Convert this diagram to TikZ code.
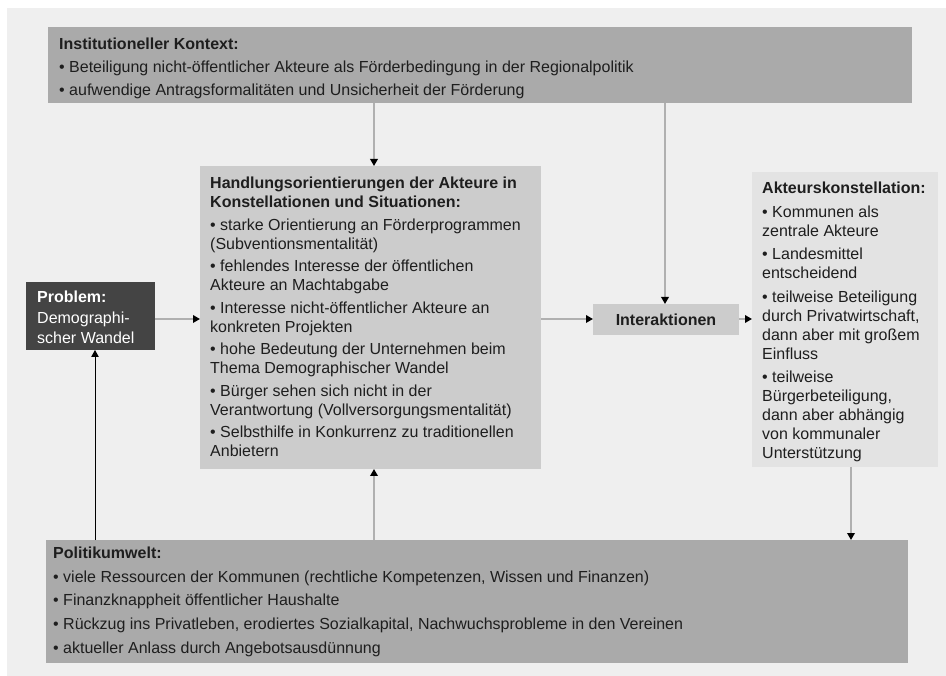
\documentclass[tikz,border=0pt]{standalone}
\usepackage{fontspec}
\setmainfont{Liberation Sans}
\usetikzlibrary{arrows.meta}
\definecolor{bgcol}{HTML}{EFEFEF}
\definecolor{darkbox}{HTML}{AAAAAA}
\definecolor{midbox}{HTML}{CCCCCC}
\definecolor{lightbox}{HTML}{E3E3E3}
\definecolor{probbox}{HTML}{444444}
\definecolor{linegray}{HTML}{B0B0B0}
\definecolor{txtcol}{HTML}{1E1E1E}
\begin{document}
\begin{tikzpicture}[x=1pt,y=-1pt,
  box/.style={draw=none,inner sep=0pt,outer sep=0pt,anchor=north west},
  txt/.style={inner sep=0pt,anchor=north west,align=left,text=txtcol,
    font=\fontsize{16}{19}\selectfont},
  conn/.style={draw=linegray,line width=1.8pt,
    -{Triangle[length=7pt,width=7.5pt,color=black]}},
  connb/.style={draw=black,line width=1pt,
    -{Triangle[length=7pt,width=7.5pt,color=black]}}]
\useasboundingbox (0,0) rectangle (946,676);
\fill[white] (0,0) rectangle (946,676);
\fill[bgcol] (7,8) rectangle (946,676);

% boxes
\node[box,fill=darkbox,minimum width=864pt,minimum height=76pt] (IK) at (48,27) {};
\node[box,fill=midbox,minimum width=341pt,minimum height=303pt] (H) at (200,166) {};
\node[box,fill=probbox,minimum width=129pt,minimum height=68pt] (P) at (26,282) {};
\node[box,fill=midbox,minimum width=146pt,minimum height=31pt] (I) at (593,304) {};
\node[box,fill=lightbox,minimum width=186pt,minimum height=295pt] (A) at (752,172) {};
\node[box,fill=darkbox,minimum width=862pt,minimum height=123pt] (PU) at (46,540) {};

% texts
\node[txt,font=\fontsize{16}{23}\selectfont] (IKt) at (59,38)
  {\textbf{Institutioneller Kontext:}\\
   • Beteiligung nicht-öffentlicher Akteure als Förderbedingung in der Regionalpolitik\\
   • aufwendige Antragsformalitäten und Unsicherheit der Förderung};

\node[txt] (Ht) at (210,177)
  {\textbf{Handlungsorientierungen der Akteure in}\\
   \textbf{Konstellationen und Situationen:}\\[3.5pt]
   • starke Orientierung an Förderprogrammen\\
   (Subventionsmentalität)\\[3.5pt]
   • fehlendes Interesse der öffentlichen\\
   Akteure an Machtabgabe\\[3.5pt]
   • Interesse nicht-öffentlicher Akteure an\\
   konkreten Projekten\\[3.5pt]
   • hohe Bedeutung der Unternehmen beim\\
   Thema Demographischer Wandel\\[3.5pt]
   • Bürger sehen sich nicht in der\\
   Verantwortung (Vollversorgungsmentalität)\\[3.5pt]
   • Selbsthilfe in Konkurrenz zu traditionellen\\
   Anbietern};

\node[txt,text=white,font=\fontsize{16}{20.5}\selectfont] (Pt) at (37,291)
  {\textbf{Problem:}\\
   Demographi-\\
   scher Wandel};

\node[inner sep=0pt,text=txtcol,font=\fontsize{16}{19}\selectfont\bfseries] (It) at (I.center) {Interaktionen};

\node[txt] (At) at (762,182)
  {\textbf{Akteurskonstellation:}\\[4.5pt]
   • Kommunen als\\
   zentrale Akteure\\[4.5pt]
   • Landesmittel\\
   entscheidend\\[4.5pt]
   • teilweise Beteiligung\\
   durch Privatwirtschaft,\\
   dann aber mit großem\\
   Einfluss\\[4.5pt]
   • teilweise\\
   Bürgerbeteiligung,\\
   dann aber abhängig\\
   von kommunaler\\
   Unterstützung};

\node[txt,font=\fontsize{16}{23.6}\selectfont] (PUt) at (53,547)
  {\textbf{Politikumwelt:}\\
   • viele Ressourcen der Kommunen (rechtliche Kompetenzen, Wissen und Finanzen)\\
   • Finanzknappheit öffentlicher Haushalte\\
   • Rückzug ins Privatleben, erodiertes Sozialkapital, Nachwuchsprobleme in den Vereinen\\
   • aktueller Anlass durch Angebotsausdünnung};

% connector columns and row
\coordinate (c1) at (374,0);
\coordinate (c2) at (665,0);
\coordinate (c3) at (851,0);
\coordinate (c4) at (95,0);
\coordinate (r1) at (0,319);

% connectors
\draw[conn] (IK.south -| c1) -- (H.north -| c1);
\draw[conn] (IK.south -| c2) -- (I.north -| c2);
\draw[conn] (P.east |- r1) -- (H.west |- r1);
\draw[conn] (H.east |- r1) -- (I.west |- r1);
\draw[conn] (I.east |- r1) -- (A.west |- r1);
\draw[conn] (A.south -| c3) -- (PU.north -| c3);
\draw[conn] (PU.north -| c1) -- (H.south -| c1);
\draw[connb] (PU.north -| c4) -- (P.south -| c4);
\end{tikzpicture}
\end{document}
